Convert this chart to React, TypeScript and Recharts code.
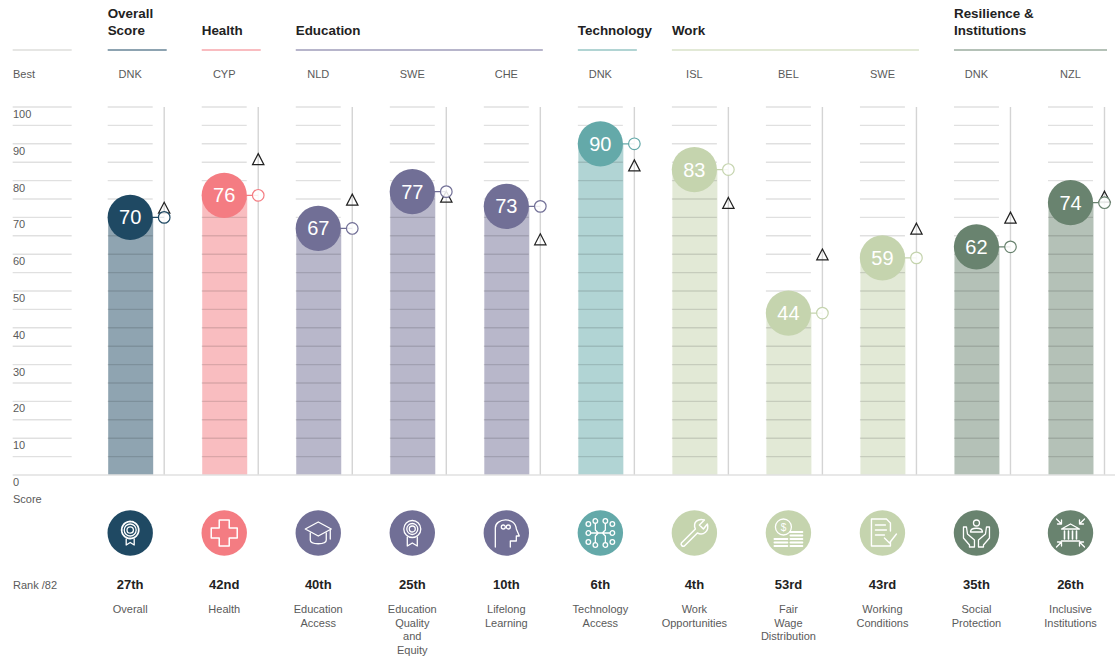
import React from "react";
import { ComposedChart, Bar, Line, Cell, XAxis, YAxis, ReferenceLine } from "recharts";

const indicators = ["Overall", "Health", "Education Access", "Education Quality and Equity", "Lifelong Learning", "Technology Access", "Work Opportunities", "Fair Wage Distribution", "Working Conditions", "Social Protection", "Inclusive Institutions"];
const labelLines = [["Overall"], ["Health"], ["Education", "Access"], ["Education", "Quality", "and", "Equity"], ["Lifelong", "Learning"], ["Technology", "Access"], ["Work", "Opportunities"], ["Fair", "Wage", "Distribution"], ["Working", "Conditions"], ["Social", "Protection"], ["Inclusive", "Institutions"]];
const scores = [70, 76, 67, 77, 73, 90, 83, 44, 59, 62, 74];
const averages = [72.5, 85.7, 74.7, 75.5, 63.9, 84, 73.8, 59.8, 66.8, 69.8, 75.5];
const bestCountries = ["DNK", "CYP", "NLD", "SWE", "CHE", "DNK", "ISL", "BEL", "SWE", "DNK", "NZL"];
const ranks = ["27th", "42nd", "40th", "25th", "10th", "6th", "4th", "53rd", "43rd", "35th", "26th"];
const colors = ["#1f4963", "#f47c82", "#716f96", "#716f96", "#716f96", "#64a9a9", "#c5d4ae", "#c5d4ae", "#c5d4ae", "#69836f", "#69836f"];

const groupNames = [[""], ["Overall", "Score"], ["Health"], ["Education"], ["Technology"], ["Work"], ["Resilience &", "Institutions"]];
const groupStarts = [-1.25, 0, 1, 2, 5, 6, 9];
const groupSpans = [1, 1, 1, 3, 1, 3, 2];
const groupColors = ["#e6e6e4", "#8da3b1", "#f9bcc0", "#b7b5cb", "#b1d4d3", "#e2e9d6", "#b4c1b7"];

const scoreTicks = [0, 10, 20, 30, 40, 50, 60, 70, 80, 90, 100];
const gridValues = [5, 10, 15, 20, 25, 30, 35, 40, 45, 50, 55, 60, 65, 70, 75, 80, 85, 90, 95, 100];

const rows = indicators.map((name, i) => ({ idx: i, name, score: scores[i], average: averages[i] }));

const W = 1115;
const H = 657;
const STEP = 94.03;
const BAR = 45;
const MARKER_DX = 34;
const MARKER_UNITS = MARKER_DX / STEP;
const BAR_UNITS = BAR / 2 / STEP;
const FONT = "'Liberation Sans', Arial, sans-serif";
const LEFT = 130.2 - 1.25 * STEP;
const XMAX = (W - 130.2) / STEP;
const TOP = 107;
const BOTTOM = H - 475;
const GREY = "#5a5a5a";
const GRID = "#000";
const GRID_OPACITY = 0.12;

const IW = { fill: "none", stroke: "#fff", strokeWidth: 1.3, strokeLinejoin: "round" as const, strokeLinecap: "round" as const };

function Icon({ i }: { i: number }) {
  switch (i) {
    case 0:
      return (
        <g {...IW}>
          <circle cx={0} cy={-3} r={8.5} strokeDasharray="2.2 1" strokeWidth={1.8} />
          <circle cx={0} cy={-3} r={6} />
          <circle cx={0} cy={-3} r={3.2} />
          <path d="M-4 6 V12 L0 9.5 L4 12 V6" />
        </g>
      );
    case 1:
      return <path {...IW} strokeWidth={1.5} d="M-5 -13 H5 V-5 H13 V5 H5 V13 H-5 V5 H-13 V-5 H-5 Z" />;
    case 2:
      return (
        <g {...IW}>
          <path d="M0 -11 L13 -4 L0 3 L-13 -4 Z" />
          <path d="M-8 0 V7 C-8 12 8 12 8 7 V0" />
          <path d="M12 -3 V6" />
        </g>
      );
    case 3:
      return (
        <g {...IW}>
          <circle cx={0} cy={-4} r={8.5} />
          <circle cx={0} cy={-4} r={5.5} />
          <circle cx={0} cy={-4} r={3} />
          <path d="M-5 4 V13 L0 10 L5 13 V4" />
        </g>
      );
    case 4:
      return (
        <g {...IW}>
          <path d="M-11 14 V-5 C-11 -15 9 -17 10 -4 L13 3 H10 V8 H4 V14" />
          <circle cx={-3} cy={-6} r={2} />
          <circle cx={2} cy={-6} r={2} />
        </g>
      );
    case 5:
      return (
        <g {...IW}>
          {[[-12, -9], [-12, 0], [-12, 9], [12, -9], [12, 0], [12, 9], [-5, -12], [5, -12], [-5, 12], [5, 12]].map(([x, y], k) => (
            <circle key={k} cx={x} cy={y} r={2.3} />
          ))}
          <path d="M-9.5 0 H9.5 M-5 -9.5 V-3 L-2 0 M5 -9.5 V-3 L2 0 M-5 9.5 V3 L-2 0 M5 9.5 V3 L2 0" />
        </g>
      );
    case 6:
      return (
        <g {...IW} strokeWidth={1.5}>
          <path d="M-13 10 L1 -4 C-2 -11 4 -15 10 -13 L5 -8 L9 -4 L13 -9 C15 -2 9 3 3 0 L-10 13 C-12 14 -14 12 -13 10 Z" />
        </g>
      );
    case 7:
      return (
        <g {...IW}>
          <circle cx={-5} cy={-6} r={8} />
          <text x={-5} y={-2.5} fontSize={10} textAnchor="middle" fill="#fff" stroke="none" fontFamily={FONT}>$</text>
          <path strokeWidth={1.8} d="M-14 6 H-1 M-14 9.5 H-1 M-14 13 H-1 M2 -1 H14 M2 2.5 H14 M2 6 H14 M2 9.5 H14 M2 13 H14" />
        </g>
      );
    case 8:
      return (
        <g {...IW} strokeWidth={1.4}>
          <path d="M8 -2 V-10 L4 -14 H-11 V13 H8 V9" />
          <path d="M-7 -8 H3 M-7 -3 H4 M-7 2 H2" />
          <path d="M2 5 L7 10 L14 1" />
        </g>
      );
    case 9:
      return (
        <g {...IW}>
          <circle cx={0} cy={-10} r={3} />
          <path d="M-6 -1 C-6 -6 6 -6 6 -1 Z" />
          <path d="M-2 14 V7 L-9 1 L-10 -6 L-13 -6 V5 L-7 12 V14 Z" />
          <path d="M2 14 V7 L9 1 L10 -6 L13 -6 V5 L7 12 V14 Z" />
        </g>
      );
    default:
      return (
        <g {...IW}>
          <path d="M-9 -4 L0 -9 L9 -4 Z" />
          <path d="M-6 -2 V6 M-2 -2 V6 M2 -2 V6 M6 -2 V6 M-9 8 H9" strokeWidth={1.6} />
          <path d="M-14 -14 L-9 -9 M-9 -13 V-9 H-13 M14 -14 L9 -9 M9 -13 V-9 H13 M-14 14 L-9 9 M-9 13 V9 H-13 M14 14 L9 9 M9 13 V9 H13" />
        </g>
      );
  }
}

function BottomTick(props: any) {
  const { x, payload } = props;
  const i = payload.value;
  if (i < 0 || i > 10 || !Number.isInteger(i)) return null;
  return (
    <g>
      <g transform={`translate(${x},533)`}>
        <circle r={22.7} fill={colors[i]} />
        <Icon i={i} />
      </g>
      <text x={x} y={589} textAnchor="middle" fontFamily={FONT} fontSize={13} fontWeight={700} fill="#222">{ranks[i]}</text>
      {labelLines[i].map((t, k) => (
        <text key={k} x={x} y={613 + k * 13.7} textAnchor="middle" fontFamily={FONT} fontSize={11} fill={GREY}>{t}</text>
      ))}
    </g>
  );
}

function BestTick(props: any) {
  const { x, payload } = props;
  const i = payload.value;
  return <text x={x} y={78} textAnchor="middle" fontFamily={FONT} fontSize={11} fill={GREY}>{bestCountries[i]}</text>;
}

function GroupTick(props: any) {
  const { x, index } = props;
  const names = groupNames[index];
  const left = x - BAR / 2;
  const width = BAR + 14 + (groupSpans[index] - 1) * STEP;
  const adj = index === 0 ? 22.5 : 0;
  return (
    <g>
      {names.map((t, k) => (
        <text key={k} x={left} y={34.5 - (names.length - 1 - k) * 17} fontFamily={FONT} fontSize={13.4} fontWeight={700} fill="#222">{t}</text>
      ))}
      <line x1={left + adj} x2={left + adj + width} y1={50} y2={50} stroke={groupColors[index]} strokeWidth={2} />
    </g>
  );
}

function ScoreTick(props: any) {
  const { y, payload } = props;
  return <text x={13} y={y + 11} fontFamily={FONT} fontSize={11} fill={GREY}>{payload.value}</text>;
}

function Triangle(props: any) {
  const { cx, cy, index } = props;
  const x = cx + MARKER_DX;
  return <path key={index} d={`M${x} ${cy - 6} L${x + 5.7} ${cy + 5} H${x - 5.7} Z`} fill="none" stroke="#222" strokeWidth={1.2} />;
}

function ScoreMark(props: any) {
  const { cx, cy, index, value } = props;
  const c = colors[index];
  return (
    <g key={index}>
      <line x1={cx} x2={cx + MARKER_DX} y1={cy} y2={cy} stroke={c} strokeWidth={1.2} />
      <circle cx={cx + MARKER_DX} cy={cy} r={5.8} fill="#fff" fillOpacity={0.85} stroke={c} strokeWidth={1.2} />
      <circle cx={cx} cy={cy} r={22.6} fill={c} />
      <text x={cx} y={cy + 7} textAnchor="middle" fontFamily={FONT} fontSize={20} fill="#fff">{value}</text>
    </g>
  );
}

export default function App() {
  return (
    <div style={{ position: "absolute", left: 0, top: 0, width: W, height: H }}>
      <ComposedChart width={W} height={H} data={rows} margin={{ top: 0, right: 0, bottom: 0, left: LEFT - 1 }} barSize={BAR}>
        <XAxis
          xAxisId={0}
          type="number"
          dataKey="idx"
          domain={[-1.25, XMAX]}
          allowDataOverflow
          ticks={indicators.map((_, i) => i)}
          interval={0}
          orientation="bottom"
          height={BOTTOM}
          tick={<BottomTick />}
          tickLine={false}
          axisLine={{ stroke: "#e1e1e1", strokeWidth: 1.6 }}
        />
        <XAxis
          xAxisId="best"
          type="number"
          dataKey="idx"
          domain={[-1.25, XMAX]}
          allowDataOverflow
          ticks={indicators.map((_, i) => i)}
          interval={0}
          orientation="top"
          height={TOP - 1}
          tick={<BestTick />}
          tickLine={false}
          axisLine={false}
        />
        <XAxis
          xAxisId="groups"
          type="number"
          dataKey="idx"
          domain={[-1.25, XMAX]}
          allowDataOverflow
          ticks={groupStarts}
          interval={0}
          orientation="top"
          height={1}
          tick={<GroupTick />}
          tickLine={false}
          axisLine={false}
        />
        <YAxis type="number" domain={[0, 100]} ticks={scoreTicks} interval={0} width={1} tick={<ScoreTick />} tickLine={false} axisLine={false} />
        {gridValues.map((v) => (
          <ReferenceLine key={"l" + v} segment={[{ x: -1.25, y: v }, { x: -1.25 + 59 / STEP, y: v }]} stroke={GRID} strokeOpacity={GRID_OPACITY} strokeWidth={1.4} />
        ))}
        {indicators.flatMap((_, i) =>
          gridValues.map((v) => (
            <ReferenceLine key={`g${i}-${v}`} segment={[{ x: i - BAR_UNITS, y: v }, { x: i + BAR_UNITS, y: v }]} stroke={GRID} strokeOpacity={GRID_OPACITY} strokeWidth={1.4} />
          ))
        )}
        {indicators.map((_, i) => (
          <ReferenceLine key={"v" + i} segment={[{ x: i + MARKER_UNITS, y: 0 }, { x: i + MARKER_UNITS, y: 100 }]} stroke="#d4d4d4" strokeWidth={1.4} />
        ))}
        <Bar dataKey="score" isAnimationActive={false} legendType="none">
          {rows.map((_, i) => (
            <Cell key={i} fill={colors[i]} fillOpacity={0.5} />
          ))}
        </Bar>
        <Line dataKey="average" stroke="none" isAnimationActive={false} legendType="none" dot={(p: any) => <Triangle key={p.index} {...p} />} activeDot={false} />
        <Line dataKey="score" stroke="none" isAnimationActive={false} legendType="none" dot={(p: any) => <ScoreMark key={p.index} {...p} />} activeDot={false} />
        <text x={13} y={78} fontFamily={FONT} fontSize={11} fill={GREY}>Best</text>
        <text x={13} y={503} fontFamily={FONT} fontSize={11} fill={GREY}>Score</text>
        <text x={13} y={589} fontFamily={FONT} fontSize={11} fill={GREY}>Rank /82</text>
      </ComposedChart>
    </div>
  );
}
